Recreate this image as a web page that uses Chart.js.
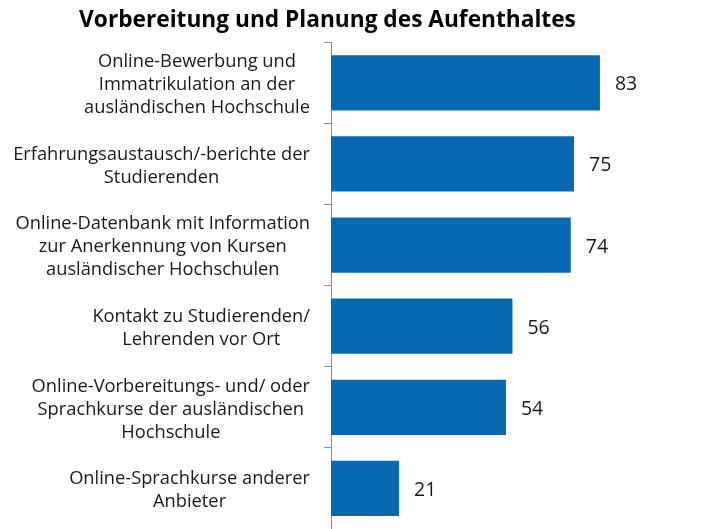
<!DOCTYPE html>
<html>
<head>
<meta charset="utf-8">
<script src="https://cdn.jsdelivr.net/npm/chart.js@4"></script>
<style>
    html, body { margin: 0; padding: 0; background: #fff; }
    #wrap { width: 701px; height: 529px; }
</style>
</head>
<body>
<div id="wrap"><canvas id="chart" width="701" height="529"></canvas></div>
<script>
const title = "Vorbereitung und Planung des Aufenthaltes";
const categories = [
    ["Online-Bewerbung und", "Immatrikulation an der", "ausländischen Hochschule"],
    ["Erfahrungsaustausch/-berichte der", "Studierenden"],
    ["Online-Datenbank mit Information", "zur Anerkennung von Kursen", "ausländischer Hochschulen"],
    ["Kontakt zu Studierenden/", "Lehrenden vor Ort"],
    ["Online-Vorbereitungs- und/ oder", "Sprachkurse der ausländischen", "Hochschule"],
    ["Online-Sprachkurse anderer", "Anbieter"]
];
const values = [83, 75, 74, 56, 54, 21];

const fontFamily = "'Open Sans', Lato, sans-serif";
const textColor = "#1a1a1a";
const axisColor = "#8c8c8c";

// draws the category labels (lines centred inside a right-aligned block) and the values
const labelPlugin = {
    id: "labelPlugin",
    afterDraw(chart) {
        const ctx = chart.ctx;
        const yScale = chart.scales.y;
        const lineH = 23;
        const labelRight = yScale.right - 21;
        ctx.save();
        ctx.font = "18.3px " + fontFamily;
        ctx.fillStyle = textColor;
        ctx.textBaseline = "middle";
        ctx.textAlign = "center";
        categories.forEach((lines, i) => {
            const py = yScale.getPixelForValue(i) + 2;
            const w = Math.max(...lines.map(l => ctx.measureText(l).width));
            const cx = labelRight - w / 2;
            lines.forEach((l, j) => {
                ctx.fillText(l, cx, py + (j - (lines.length - 1) / 2) * lineH);
            });
        });
        ctx.font = "19.5px " + fontFamily;
        ctx.textAlign = "left";
        const meta = chart.getDatasetMeta(0);
        meta.data.forEach((bar, i) => {
            ctx.fillText(String(values[i]), bar.x + 15, bar.y + 2);
        });
        ctx.restore();
    }
};

new Chart(document.getElementById("chart"), {
    type: "bar",
    data: {
        labels: categories,
        datasets: [{
            data: values,
            backgroundColor: "#0669b2",
            borderWidth: 0,
            barPercentage: 0.68,
            categoryPercentage: 1
        }]
    },
    options: {
        indexAxis: "y",
        responsive: false,
        animation: false,
        maintainAspectRatio: false,
        layout: { autoPadding: false, padding: { left: 0, right: 46, top: 0, bottom: 0 } },
        plugins: {
            legend: { display: false },
            tooltip: { enabled: false },
            title: {
                display: true,
                text: title,
                color: "#000",
                font: { family: fontFamily, size: 22.7, weight: "bold" },
                padding: { top: 7, bottom: 8 }
            }
        },
        scales: {
            x: {
                display: false,
                min: 0,
                max: 100
            },
            y: {
                afterFit(scale) { scale.width = 331; },
                grid: {
                    offset: true,
                    drawOnChartArea: false,
                    drawTicks: true,
                    tickLength: 7,
                    color: axisColor
                },
                border: { display: true, color: axisColor, width: 1 },
                ticks: { display: false }
            }
        }
    },
    plugins: [labelPlugin]
});
</script>
</body>
</html>
